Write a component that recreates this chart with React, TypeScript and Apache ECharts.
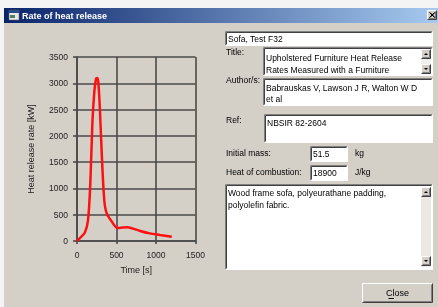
import React, { useEffect, useRef } from "react";
import * as echarts from "echarts";

const times = [0, 40, 100, 140, 170, 195, 220, 240, 255, 270, 290, 315, 345, 375, 440, 515, 580, 640, 700, 800, 920, 1050, 1200];
const hrr = [0, 60, 160, 400, 1150, 2250, 2850, 3080, 3100, 3020, 2500, 1600, 780, 530, 370, 245, 255, 260, 240, 190, 145, 115, 82];

const yTicks = [0, 500, 1000, 1500, 2000, 2500, 3000, 3500];
const xTicks = [0, 500, 1000, 1500];

const windowTitle = "Rate of heat release";
const testName = "Sofa, Test F32";
const titleLines = ["Upholstered Furniture Heat Release", "Rates Measured with a Furniture"];
const authorLines = ["Babrauskas V, Lawson J R, Walton W D", "et al"];
const refText = "NBSIR 82-2604";
const massValue = "51.5";
const heatValue = "18900";
const descLines = ["Wood frame sofa, polyeurathane padding,", "polyolefin fabric."];

const FONT = "Liberation Sans";
const BG = "#d4d0c8";

function line(x1: number, y1: number, x2: number, y2: number, color: string) {
  return { type: "line", shape: { x1, y1, x2, y2 }, style: { stroke: color, lineWidth: 1 }, silent: true };
}

function sunken(x: number, y: number, w: number, h: number, fill = "#ffffff") {
  return [
    { type: "rect", shape: { x, y, width: w, height: h }, style: { fill } },
    line(x + 0.5, y + 0.5, x + w - 0.5, y + 0.5, "#808080"),
    line(x + 0.5, y + 0.5, x + 0.5, y + h - 0.5, "#808080"),
    line(x + 1.5, y + 1.5, x + w - 1.5, y + 1.5, "#404040"),
    line(x + 1.5, y + 1.5, x + 1.5, y + h - 1.5, "#404040"),
    line(x + 0.5, y + h - 0.5, x + w - 0.5, y + h - 0.5, "#ffffff"),
    line(x + w - 0.5, y + 0.5, x + w - 0.5, y + h - 0.5, "#ffffff"),
  ];
}

function raised(x: number, y: number, w: number, h: number) {
  return [
    { type: "rect", shape: { x, y, width: w, height: h }, style: { fill: BG } },
    line(x + 0.5, y + 0.5, x + w - 0.5, y + 0.5, "#ffffff"),
    line(x + 0.5, y + 0.5, x + 0.5, y + h - 0.5, "#ffffff"),
    line(x + 0.5, y + h - 0.5, x + w - 0.5, y + h - 0.5, "#404040"),
    line(x + w - 0.5, y + 0.5, x + w - 0.5, y + h - 0.5, "#404040"),
    line(x + 1.5, y + h - 1.5, x + w - 1.5, y + h - 1.5, "#808080"),
    line(x + w - 1.5, y + 1.5, x + w - 1.5, y + h - 1.5, "#808080"),
  ];
}

function arrowBtn(x: number, y: number, up: boolean) {
  const cx = x + 5;
  const cy = y + 5;
  const pts = up
    ? [[cx - 2, cy + 1], [cx + 2, cy + 1], [cx, cy - 1]]
    : [[cx - 2, cy - 1], [cx + 2, cy - 1], [cx, cy + 1]];
  return [
    ...raised(x, y, 10, 10),
    { type: "polygon", shape: { points: pts }, style: { fill: "#000" } },
  ];
}

function txt(x: number, y: number, text: string, opts: any = {}) {
  return {
    type: "text",
    x,
    y,
    style: {
      text,
      fill: opts.fill || "#000",
      font: `${opts.bold ? "bold " : ""}${opts.size || 8.5}px "${FONT}"`,
      textAlign: opts.align || "left",
      textVerticalAlign: "middle",
    },
    silent: true,
  };
}

export default function App() {
  const ref = useRef<HTMLDivElement>(null);
  useEffect(() => {
    if (!ref.current) return;
    const chart = echarts.init(ref.current, undefined, { renderer: "svg" });
    const data = times.map((t, i) => [t, hrr[i]]);

    const graphic: any[] = [
      { type: "rect", shape: { x: 0, y: 0, width: 438, height: 307 }, style: { fill: "#f4f4f4" }, z: -10 },
      { type: "rect", shape: { x: 4, y: 8, width: 434, height: 299 }, style: { fill: BG }, z: -9 },
      {
        type: "rect",
        shape: { x: 4, y: 8, width: 434, height: 15 },
        style: {
          fill: new echarts.graphic.LinearGradient(0, 0, 1, 0, [
            { offset: 0, color: "#0a246a" },
            { offset: 1, color: "#a6caf0" },
          ]),
        },
      },
      { type: "rect", shape: { x: 9, y: 10, width: 10, height: 10 }, style: { fill: "#e8e8e8", stroke: "#606060", lineWidth: 0.5 } },
      { type: "rect", shape: { x: 9, y: 10, width: 10, height: 3 }, style: { fill: "#2a4a8a" } },
      { type: "rect", shape: { x: 10, y: 15, width: 5, height: 3 }, style: { fill: "#508060" } },
      txt(22, 15.5, windowTitle, { fill: "#ffffff", bold: true, size: 9 }),
      ...raised(427, 10, 10, 10),
      line(429.5, 12.5, 434.5, 17.5, "#000"),
      line(434.5, 12.5, 429.5, 17.5, "#000"),
      line(430, 12.5, 435, 17.5, "#000"),
      line(435, 12.5, 430, 17.5, "#000"),

      // Name box
      ...sunken(225, 31, 208, 15),
      txt(228, 38.5, testName),

      // Title
      txt(226, 52, "Title:"),
      ...sunken(263, 47, 170, 29),
      txt(266, 58, titleLines[0]),
      txt(266, 70, titleLines[1]),
      { type: "rect", shape: { x: 421, y: 49, width: 10, height: 25 }, style: { fill: "#f0f0f0" } },
      ...arrowBtn(421, 49, true),
      ...arrowBtn(421, 64, false),

      // Author
      txt(226, 80, "Author/s:"),
      ...sunken(263, 78, 170, 28),
      txt(266, 88, authorLines[0]),
      txt(266, 99, authorLines[1]),

      // Ref
      txt(226, 120, "Ref:"),
      ...sunken(264, 114, 169, 29),
      txt(267, 123, refText),

      // Initial mass
      txt(226, 153, "Initial mass:"),
      ...sunken(310, 146, 38, 16),
      txt(313, 154, massValue),
      txt(355, 153, "kg"),

      // Heat of combustion
      txt(226, 172, "Heat of combustion:"),
      ...sunken(310, 165, 38, 16),
      txt(313, 173, heatValue),
      txt(355, 172, "J/kg"),

      // Description
      ...sunken(225, 184, 208, 86),
      txt(228, 193, descLines[0]),
      txt(228, 205, descLines[1]),
      { type: "rect", shape: { x: 421, y: 187, width: 10, height: 80 }, style: { fill: "#ece9e4" } },
      ...arrowBtn(421, 187, true),
      ...arrowBtn(421, 256, false),

      // Close button
      ...raised(362, 283, 71, 20),
      {
        type: "text",
        x: 397.5,
        y: 293,
        style: { text: "Close", fill: "#000", font: `9px "${FONT}"`, textAlign: "center", textVerticalAlign: "middle" },
      },
      line(388.5, 298.5, 394, 298.5, "#000"),
    ];

    chart.setOption({
      animation: false,
      backgroundColor: "transparent",
      textStyle: { fontFamily: FONT },
      grid: { left: 77, top: 57, right: 242.5, bottom: 66, containLabel: false },
      xAxis: {
        type: "value",
        min: 0,
        max: 1500,
        interval: 500,
        name: "Time [s]",
        nameLocation: "middle",
        nameGap: 24,
        nameTextStyle: { color: "#222", fontSize: 9, fontFamily: FONT },
        axisLine: { show: true, lineStyle: { color: "#4a4a4a", width: 1.6 } },
        axisTick: { show: true, length: 3, lineStyle: { color: "#4a4a4a", width: 1.6 } },
        axisLabel: { color: "#222", fontSize: 8.5, margin: 9, fontFamily: FONT, formatter: (v: number) => (xTicks.includes(v) ? String(v) : "") },
        splitLine: { show: true, lineStyle: { color: "#4a4a4a", width: 1.6 } },
      },
      yAxis: {
        type: "value",
        min: 0,
        max: 3500,
        interval: 500,
        name: "Heat release rate [kW]",
        nameLocation: "middle",
        nameGap: 42,
        nameRotate: 90,
        nameTextStyle: { color: "#222", fontSize: 9, fontFamily: FONT },
        axisLine: { show: true, lineStyle: { color: "#4a4a4a", width: 1.6 } },
        axisTick: { show: true, length: 4, lineStyle: { color: "#4a4a4a", width: 1.6 } },
        axisLabel: { color: "#222", fontSize: 8.5, margin: 9, fontFamily: FONT, formatter: (v: number) => (yTicks.includes(v) ? String(v) : "") },
        splitLine: { show: true, lineStyle: { color: "#4a4a4a", width: 1.6 } },
      },
      graphic: { elements: graphic },
      series: [
        {
          type: "line",
          data,
          smooth: 0.3,
          showSymbol: false,
          lineStyle: { color: "#ff1010", width: 2.5 },
          z: 10,
        },
      ],
    });
    return () => chart.dispose();
  }, []);
  return <div ref={ref} style={{ position: "fixed", left: 0, top: 0, width: 438, height: 307 }} />;
}
